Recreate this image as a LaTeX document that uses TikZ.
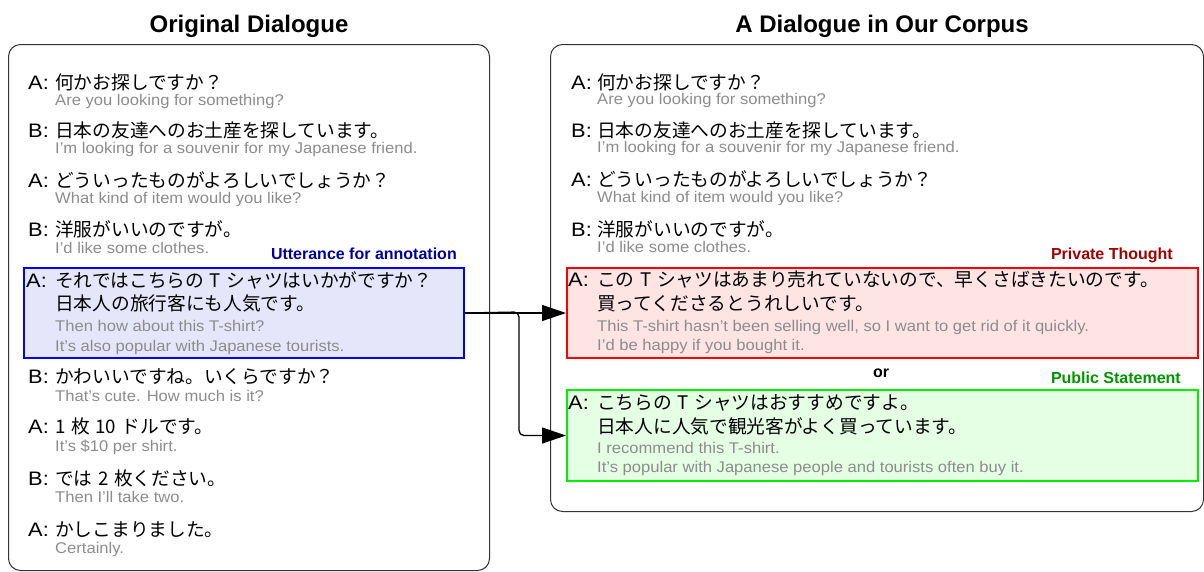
\documentclass[tikz,border=0pt]{standalone}
\usepackage{fontspec}
\setmainfont{Liberation Sans}
\newfontfamily\jpfont{Noto Sans CJK JP}
\newfontfamily\enfont[FakeStretch=1.07]{Liberation Sans}
\newfontfamily\spkfont[FakeStretch=1.12]{Liberation Sans}
\usetikzlibrary{arrows.meta}
\definecolor{engray}{RGB}{140,140,140}
\definecolor{utblue}{RGB}{0,0,160}
\definecolor{ptred}{RGB}{160,0,0}
\definecolor{psgreen}{RGB}{0,150,0}
\definecolor{bluefill}{RGB}{230,230,250}
\definecolor{redfill}{RGB}{255,228,228}
\definecolor{greenfill}{RGB}{228,255,228}
\definecolor{bluedraw}{RGB}{0,0,255}
\definecolor{reddraw}{RGB}{255,0,0}
\definecolor{greendraw}{RGB}{0,240,0}
\newcommand{\tgap}{\hspace{0.3em}}
\tikzset{
 spk/.style={anchor=base west, inner sep=0pt, font=\spkfont\fontsize{19.5}{22}\selectfont},
 jp/.style={anchor=base west, inner sep=0pt, font=\jpfont\fontsize{18.7}{22}\selectfont},
 en/.style={anchor=base west, inner sep=0pt, text=engray, font=\enfont\fontsize{15.5}{18}\selectfont},
 ttl/.style={anchor=base, inner sep=0pt, font=\bfseries\fontsize{24}{28}\selectfont},
 tag/.style={anchor=base east, inner sep=0pt, font=\bfseries\fontsize{16}{19}\selectfont},
 panel/.style={draw=black!80, line width=1pt, rounded corners=12pt, anchor=north west, inner sep=0pt},
 hl/.style={line width=2pt, anchor=north west, inner sep=0pt},
 conn/.style={line width=1.3pt, -{Triangle[length=24pt,width=16pt]}},
}
\begin{document}
\begin{tikzpicture}[x=1pt,y=-1pt]
\useasboundingbox (0,0) rectangle (1204,571);
% titles
\node[ttl] (tleft) at (249,32) {Original Dialogue};
\node[ttl] (tright) at (882,32) {A Dialogue in Our Corpus};
% panels
\node[panel, minimum width=481pt, minimum height=526pt] (lpanel) at (8,44) {};
\node[panel, minimum width=653pt, minimum height=467pt] (rpanel) at (550,44) {};
% highlight boxes
\node[hl, draw=bluedraw, fill=bluefill, minimum width=440pt, minimum height=90pt] (blue) at (23,267) {};
\node[hl, draw=reddraw, fill=redfill, minimum width=631pt, minimum height=90pt] (red) at (566,267) {};
\node[hl, draw=greendraw, fill=greenfill, minimum width=631pt, minimum height=91pt] (green) at (566,389) {};
% left dialogue
\node[spk] (la1) at (28,89) {A:};
\node[jp] (lj1) at (55,89) {何かお探しですか？};
\node[en] (le1) at (55,105) {Are you looking for something?};
\node[spk] (la2) at (28,137) {B:};
\node[jp] (lj2) at (55,137) {日本の友達へのお土産を探しています。};
\node[en] (le2) at (55,153) {I’m looking for a souvenir for my Japanese friend.};
\node[spk] (la3) at (28,187) {A:};
\node[jp] (lj3) at (55,187) {どういったものがよろしいでしょうか？};
\node[en] (le3) at (55,203) {What kind of item would you like?};
\node[spk] (la4) at (28,236) {B:};
\node[jp] (lj4) at (55,236) {洋服がいいのですが。};
\node[en] (le4) at (55,253) {I’d like some clothes.};
\node[tag, text=utblue] (utag) at (457,259) {Utterance for annotation};
\node[spk] (la5) at (26,287) {A:};
\node[jp] (lj5a) at (55,287) {それではこちらの\tgap T\tgap シャツはいかがですか？};
\node[jp] (lj5b) at (55,310) {日本人の旅行客にも人気です。};
\node[en] (le5a) at (55,331) {Then how about this T-shirt?};
\node[en] (le5b) at (55,351) {It’s also popular with Japanese tourists.};
\node[spk] (la6) at (28,383) {B:};
\node[jp] (lj6) at (55,383) {かわいいですね。いくらですか？};
\node[en] (le6) at (55,401) {That’s cute. How much is it?};
\node[spk] (la7) at (28,433) {A:};
\node[jp] (lj7) at (55,433) {1\tgap 枚\tgap 10\tgap ドルです。};
\node[en] (le7) at (55,451) {It’s \$10 per shirt.};
\node[spk] (la8) at (28,485) {B:};
\node[jp] (lj8) at (55,485) {では\tgap 2\tgap 枚ください。};
\node[en] (le8) at (55,502) {Then I’ll take two.};
\node[spk] (la9) at (28,536) {A:};
\node[jp] (lj9) at (55,536) {かしこまりました。};
\node[en] (le9) at (55,553) {Certainly.};
% right dialogue
\node[spk] (ra1) at (571,89) {A:};
\node[jp] (rj1) at (597,89) {何かお探しですか？};
\node[en] (re1) at (597,104) {Are you looking for something?};
\node[spk] (ra2) at (571,137) {B:};
\node[jp] (rj2) at (597,137) {日本の友達へのお土産を探しています。};
\node[en] (re2) at (597,152) {I’m looking for a souvenir for my Japanese friend.};
\node[spk] (ra3) at (571,186) {A:};
\node[jp] (rj3) at (597,186) {どういったものがよろしいでしょうか？};
\node[en] (re3) at (597,202) {What kind of item would you like?};
\node[spk] (ra4) at (571,236) {B:};
\node[jp] (rj4) at (597,236) {洋服がいいのですが。};
\node[en] (re4) at (597,252) {I’d like some clothes.};
\node[tag, text=ptred] (ptag) at (1173,259) {Private Thought};
\node[spk] (ra5) at (568,286) {A:};
\node[jp] (rj5a) at (597,286) {この\tgap T\tgap シャツはあまり売れていないので、早くさばきたいのです。};
\node[jp] (rj5b) at (597,310) {買ってくださるとうれしいです。};
\node[en] (re5a) at (597,331) {This T-shirt hasn’t been selling well, so I want to get rid of it quickly.};
\node[en] (re5b) at (597,350) {I’d be happy if you bought it.};
\node[anchor=base, inner sep=0pt, font=\bfseries\fontsize{16}{19}\selectfont] (orlbl) at (881,377) {or};
\node[tag, text=psgreen] (stag) at (1181,383) {Public Statement};
\node[spk] (ra6) at (568,409) {A:};
\node[jp] (rj6a) at (597,409) {こちらの\tgap T\tgap シャツはおすすめですよ。};
\node[jp] (rj6b) at (597,433) {日本人に人気で観光客がよく買っています。};
\node[en] (re6a) at (597,453) {I recommend this T-shirt.};
\node[en] (re6b) at (597,472) {It’s popular with Japanese people and tourists often buy it.};
% connectors
\coordinate (split) at (519,312);
\draw[conn] (blue.east) -- (red.west);
\draw[conn, rounded corners=5pt] (blue.east) -- (split) -- (split |- green.west) -- (green.west);
\end{tikzpicture}
\end{document}
